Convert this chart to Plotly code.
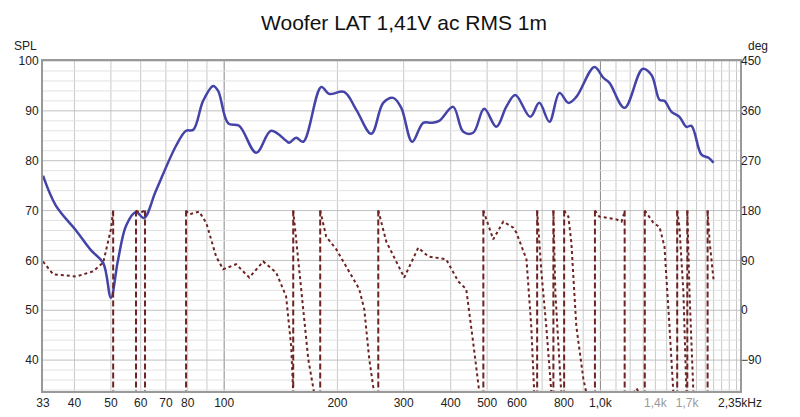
import plotly.graph_objects as go

spl_freq = [33, 35.7, 40.4, 44.3, 47.7, 50.0, 52.2, 54.9, 58.3, 61.2, 65.9, 74.5, 79.2, 82.8, 87.9, 93.5, 96.4,
            102.5, 109.6, 121.7, 133.3, 146.1, 148.9, 155.4, 162.3, 181.1, 190.1, 208.4, 224.5, 246.1, 264.7,
            281.4, 295.6, 316, 338, 355.4, 373, 406, 432, 459, 491, 529, 562, 594, 651, 688, 732, 778, 822,
            863, 964, 1019, 1057, 1159, 1294, 1367, 1436, 1480, 1545, 1622, 1693, 1746, 1856, 1938, 1998]
spl_db = [77, 71, 66, 62, 59.5, 52.5, 60, 67, 69.7, 68.5, 74, 83, 86, 86.2, 92, 95, 94,
          87.5, 87, 81.6, 86, 84, 83.6, 84.6, 83.8, 94.8, 93.4, 93.8, 90.2, 85.4, 91.6,
          92.6, 90.6, 83.8, 87.6, 87.6, 88, 90.8, 85.8, 85.6, 90.4, 86.8, 90.8, 93.2, 88.8, 91.6, 87.8, 93.6, 91.6,
          92.8, 98.8, 96.6, 95.6, 90.6, 98.4, 97.2, 92.2, 92, 89.8, 88.8, 86.8, 87, 81.2, 80.6, 79.6]

# phase segments (None separates wrapped segments)
phase_freq = [33, 35.1, 40.4, 44.8, 47.7, 50.0, 50.7, None,
              58.3, 59.8, 61.6, None,
              79.2, 80.7, 85.8, 89.6, 95.2, 99.4, 107.6, 116.6, 127.0, 137.5, 146.1, 150.7, 152.6, None,
              152.6, 160.2, 167.3, 173.5, None,
              180, 183.3, 186.7, 198.6, 220.4, 228.6, 235.7, 243, 250.4, None,
              256.8, 269.7, 301, 328, 349, 389, 419, 440, 459, 477, None,
              488.5, 519, 552, 587, 598, 636, 655, 667, None,
              679, 697, 718, 741, None,
              750, 759, 787, None,
              801, 822, 837, 863, 901, 918, None,
              967, 993, 1103, 1138, 1160, None,
              1224, 1247, 1270, None,
              1312, 1383, 1436, 1480, 1526, 1563, None,
              1600, 1622, 1662, 1693, None,
              1702, 1725, 1767, None,
              1927, 1952, 1998]
phase_deg = [88, 65, 61, 70, 86, 146, 180, None,
             180, 176, 180, None,
             180, 173, 178, 158, 97, 74, 83, 59, 88, 68, 25, -65, -150, None,
             180, 32, -88, -150, None,
             180, 158, 133, 110, 56, 38, 2, -88, -150, None,
             180, 124, 59, 113, 97, 92, 52, 38, -58, -150, None,
             180, 128, 160, 149, 140, 92, -29, -150, None,
             180, 68, -29, -150, None,
             180, 32, -150, None,
             180, 169, 122, -29, -124, -150, None,
             180, 169, 164, 160, 178, None,
             -150, -141, -150, None,
             180, 158, 150, 115, -29, -150, None,
             180, 150, 32, -150, None,
             180, 32, -150, None,
             180, 122, 56]

wrap_freqs = [50.7, 58.3, 61.6, 79.2, 152.6, 180, 256.8, 488.5, 679, 750, 801, 967, 1160, 1312, 1600, 1702, 1927]

x_tickvals = [33, 40, 50, 60, 70, 80, 100, 200, 300, 400, 500, 600, 800, 1000, 1400, 1700, 2350]
x_ticktext = ["33", "40", "50", "60", "70", "80", "100", "200", "300", "400", "500", "600", "800", "1,0k",
              "<span style='color:#999'>1,4k</span>", "<span style='color:#999'>1,7k</span>", "2,35kHz"]
grid_freqs = [40, 50, 60, 70, 80, 90, 100, 200, 300, 400, 500, 600, 700, 800, 900, 1000,
              1100, 1200, 1300, 1400, 1500, 1600, 1700, 1800, 1900, 2000, 2100, 2200, 2300]
y_ticks = [40, 50, 60, 70, 80, 90, 100]
y2_ticks = [-90, 0, 90, 180, 270, 360, 450]

SPL_COLOR = "#4444A8"
PH_COLOR = "#6E2323"

fig = go.Figure()

wx, wy = [], []
for f in wrap_freqs:
    wx += [f, f, None]
    wy += [180, -160, None]
fig.add_trace(go.Scatter(x=wx, y=wy, yaxis="y2", mode="lines",
                         line=dict(color=PH_COLOR, width=2, dash="6px,3px"), hoverinfo="skip"))
fig.add_trace(go.Scatter(x=phase_freq, y=phase_deg, yaxis="y2", mode="lines",
                         line=dict(color=PH_COLOR, width=2, dash="dot"), connectgaps=False))
fig.add_trace(go.Scatter(x=spl_freq, y=spl_db, mode="lines", line=dict(color=SPL_COLOR, width=2.5, shape="spline")))

shapes = []
for f in grid_freqs:
    dark = f in (100, 1000)
    shapes.append(dict(type="line", xref="x", yref="paper", x0=f, x1=f, y0=0, y1=1, layer="below",
                       line=dict(color="#888" if dark else "#c8c8c8", width=1)))
for v in range(34, 101, 2):
    shapes.append(dict(type="line", xref="paper", yref="y", x0=0, x1=1, y0=v, y1=v, layer="below",
                       line=dict(color="#c0c0c0" if v % 10 == 0 else "#e2e2e2", width=1)))

fig.update_layout(
    width=792, height=409, showlegend=False,
    paper_bgcolor="white", plot_bgcolor="white",
    margin=dict(l=35, r=60, t=53, b=26, autoexpand=False),
    title=dict(text="Woofer LAT 1,41V ac RMS 1m", x=0.5, xanchor="center", y=0.965, yanchor="middle",
               font=dict(family="Liberation Sans, Arial", size=21, color="#111")),
    font=dict(family="Liberation Sans, Arial", size=12, color="#222"),
    xaxis=dict(type="log", range=[1.5185, 3.371], tickvals=x_tickvals, ticktext=x_ticktext, automargin=False,
               showgrid=False, zeroline=False, showline=True, linecolor="#999", linewidth=2, mirror=True,
               ticks="", ticklen=0),
    yaxis=dict(range=[33.8, 100], tickvals=y_ticks, showgrid=False, zeroline=False, automargin=False,
               showline=True, linecolor="#999", linewidth=2, mirror=True, ticks=""),
    yaxis2=dict(range=[-145.8, 450], overlaying="y", side="right", tickvals=y2_ticks, automargin=False,
                showgrid=False, zeroline=False, ticks=""),
    shapes=shapes,
    annotations=[
        dict(text="SPL", xref="paper", yref="paper", x=0, y=1, xanchor="right", yanchor="bottom",
             xshift=-4, yshift=6, showarrow=False, font=dict(size=12)),
        dict(text="deg", xref="paper", yref="paper", x=1, y=1, xanchor="left", yanchor="bottom",
             xshift=6, yshift=6, showarrow=False, font=dict(size=12)),
    ],
)

fig.write_html("out.html")
